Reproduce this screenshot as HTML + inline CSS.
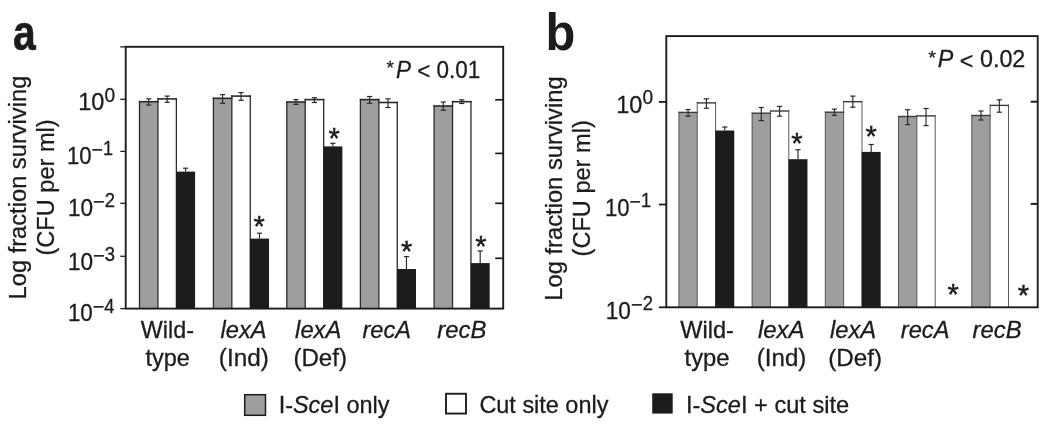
<!DOCTYPE html>
<html lang="en">
<head>
<meta charset="utf-8">
<title>Figure</title>
<style>
html,body{margin:0;padding:0;background:#ffffff;}
body{width:1050px;height:428px;overflow:hidden;}
svg{display:block;}
svg text{font-family:"Liberation Sans",sans-serif;fill:#1c1c1c;stroke:#1c1c1c;stroke-width:0.3px;font-kerning:none;white-space:pre;}
</style>
</head>
<body>
<svg width="1050" height="428" viewBox="0 0 1050 428">
<rect x="0" y="0" width="1050" height="428" fill="#ffffff"/>
<g font-size="24.3">
<rect x="139.50" y="101.70" width="18.43" height="206.90" fill="#9e9e9e"/>
<rect x="157.93" y="98.90" width="18.43" height="209.70" fill="#ffffff"/>
<line x1="139.50" y1="100.90" x2="139.50" y2="308.60" stroke="#2a2a2a" stroke-width="1.3" stroke-linecap="butt"/>
<line x1="157.93" y1="98.10" x2="157.93" y2="308.60" stroke="#2a2a2a" stroke-width="1.3" stroke-linecap="butt"/>
<line x1="176.36" y1="98.10" x2="176.36" y2="308.60" stroke="#2a2a2a" stroke-width="1.3" stroke-linecap="butt"/>
<line x1="138.85" y1="101.70" x2="158.58" y2="101.70" stroke="#2a2a2a" stroke-width="1.6" stroke-linecap="butt"/>
<line x1="157.28" y1="98.90" x2="177.01" y2="98.90" stroke="#2a2a2a" stroke-width="1.6" stroke-linecap="butt"/>
<rect x="176.06" y="171.60" width="19.03" height="137.00" fill="#1c1c1c"/>
<rect x="213.40" y="98.30" width="18.43" height="210.30" fill="#9e9e9e"/>
<rect x="231.83" y="96.10" width="18.43" height="212.50" fill="#ffffff"/>
<line x1="213.40" y1="97.50" x2="213.40" y2="308.60" stroke="#2a2a2a" stroke-width="1.3" stroke-linecap="butt"/>
<line x1="231.83" y1="95.30" x2="231.83" y2="308.60" stroke="#2a2a2a" stroke-width="1.3" stroke-linecap="butt"/>
<line x1="250.26" y1="95.30" x2="250.26" y2="308.60" stroke="#2a2a2a" stroke-width="1.3" stroke-linecap="butt"/>
<line x1="212.75" y1="98.30" x2="232.48" y2="98.30" stroke="#2a2a2a" stroke-width="1.6" stroke-linecap="butt"/>
<line x1="231.18" y1="96.10" x2="250.91" y2="96.10" stroke="#2a2a2a" stroke-width="1.6" stroke-linecap="butt"/>
<rect x="249.96" y="238.60" width="19.03" height="70.00" fill="#1c1c1c"/>
<rect x="286.80" y="102.00" width="18.43" height="206.60" fill="#9e9e9e"/>
<rect x="305.23" y="99.60" width="18.43" height="209.00" fill="#ffffff"/>
<line x1="286.80" y1="101.20" x2="286.80" y2="308.60" stroke="#2a2a2a" stroke-width="1.3" stroke-linecap="butt"/>
<line x1="305.23" y1="98.80" x2="305.23" y2="308.60" stroke="#2a2a2a" stroke-width="1.3" stroke-linecap="butt"/>
<line x1="323.66" y1="98.80" x2="323.66" y2="308.60" stroke="#2a2a2a" stroke-width="1.3" stroke-linecap="butt"/>
<line x1="286.15" y1="102.00" x2="305.88" y2="102.00" stroke="#2a2a2a" stroke-width="1.6" stroke-linecap="butt"/>
<line x1="304.58" y1="99.60" x2="324.31" y2="99.60" stroke="#2a2a2a" stroke-width="1.6" stroke-linecap="butt"/>
<rect x="323.36" y="146.40" width="19.03" height="162.20" fill="#1c1c1c"/>
<rect x="360.40" y="99.60" width="18.43" height="209.00" fill="#9e9e9e"/>
<rect x="378.83" y="102.50" width="18.43" height="206.10" fill="#ffffff"/>
<line x1="360.40" y1="98.80" x2="360.40" y2="308.60" stroke="#2a2a2a" stroke-width="1.3" stroke-linecap="butt"/>
<line x1="378.83" y1="98.80" x2="378.83" y2="308.60" stroke="#2a2a2a" stroke-width="1.3" stroke-linecap="butt"/>
<line x1="397.26" y1="101.70" x2="397.26" y2="308.60" stroke="#2a2a2a" stroke-width="1.3" stroke-linecap="butt"/>
<line x1="359.75" y1="99.60" x2="379.48" y2="99.60" stroke="#2a2a2a" stroke-width="1.6" stroke-linecap="butt"/>
<line x1="378.18" y1="102.50" x2="397.91" y2="102.50" stroke="#2a2a2a" stroke-width="1.6" stroke-linecap="butt"/>
<rect x="396.96" y="269.00" width="19.03" height="39.60" fill="#1c1c1c"/>
<rect x="434.10" y="106.00" width="18.43" height="202.60" fill="#9e9e9e"/>
<rect x="452.53" y="101.70" width="18.43" height="206.90" fill="#ffffff"/>
<line x1="434.10" y1="105.20" x2="434.10" y2="308.60" stroke="#2a2a2a" stroke-width="1.3" stroke-linecap="butt"/>
<line x1="452.53" y1="100.90" x2="452.53" y2="308.60" stroke="#2a2a2a" stroke-width="1.3" stroke-linecap="butt"/>
<line x1="470.96" y1="100.90" x2="470.96" y2="308.60" stroke="#2a2a2a" stroke-width="1.3" stroke-linecap="butt"/>
<line x1="433.45" y1="106.00" x2="453.18" y2="106.00" stroke="#2a2a2a" stroke-width="1.6" stroke-linecap="butt"/>
<line x1="451.88" y1="101.70" x2="471.61" y2="101.70" stroke="#2a2a2a" stroke-width="1.6" stroke-linecap="butt"/>
<rect x="470.66" y="263.10" width="19.03" height="45.50" fill="#1c1c1c"/>
<line x1="148.72" y1="98.80" x2="148.72" y2="105.10" stroke="#2a2a2a" stroke-width="1.15" stroke-linecap="butt"/>
<line x1="146.12" y1="98.80" x2="151.31" y2="98.80" stroke="#2a2a2a" stroke-width="1.2" stroke-linecap="butt"/>
<line x1="146.12" y1="105.10" x2="151.31" y2="105.10" stroke="#2a2a2a" stroke-width="1.2" stroke-linecap="butt"/>
<line x1="167.15" y1="96.10" x2="167.15" y2="102.30" stroke="#2a2a2a" stroke-width="1.15" stroke-linecap="butt"/>
<line x1="164.55" y1="96.10" x2="169.75" y2="96.10" stroke="#2a2a2a" stroke-width="1.2" stroke-linecap="butt"/>
<line x1="164.55" y1="102.30" x2="169.75" y2="102.30" stroke="#2a2a2a" stroke-width="1.2" stroke-linecap="butt"/>
<line x1="185.57" y1="168.20" x2="185.57" y2="171.60" stroke="#2a2a2a" stroke-width="1.15" stroke-linecap="butt"/>
<line x1="182.97" y1="168.20" x2="188.17" y2="168.20" stroke="#2a2a2a" stroke-width="1.2" stroke-linecap="butt"/>
<line x1="222.62" y1="94.60" x2="222.62" y2="103.30" stroke="#2a2a2a" stroke-width="1.15" stroke-linecap="butt"/>
<line x1="220.02" y1="94.60" x2="225.22" y2="94.60" stroke="#2a2a2a" stroke-width="1.2" stroke-linecap="butt"/>
<line x1="220.02" y1="103.30" x2="225.22" y2="103.30" stroke="#2a2a2a" stroke-width="1.2" stroke-linecap="butt"/>
<line x1="241.05" y1="92.60" x2="241.05" y2="100.30" stroke="#2a2a2a" stroke-width="1.15" stroke-linecap="butt"/>
<line x1="238.45" y1="92.60" x2="243.65" y2="92.60" stroke="#2a2a2a" stroke-width="1.2" stroke-linecap="butt"/>
<line x1="238.45" y1="100.30" x2="243.65" y2="100.30" stroke="#2a2a2a" stroke-width="1.2" stroke-linecap="butt"/>
<line x1="259.48" y1="233.20" x2="259.48" y2="238.60" stroke="#2a2a2a" stroke-width="1.15" stroke-linecap="butt"/>
<line x1="256.88" y1="233.20" x2="262.08" y2="233.20" stroke="#2a2a2a" stroke-width="1.2" stroke-linecap="butt"/>
<text x="253.55" y="235.65" font-size="29.0" style="stroke-width:0.45px">*</text>
<line x1="296.01" y1="99.60" x2="296.01" y2="104.40" stroke="#2a2a2a" stroke-width="1.15" stroke-linecap="butt"/>
<line x1="293.41" y1="99.60" x2="298.62" y2="99.60" stroke="#2a2a2a" stroke-width="1.2" stroke-linecap="butt"/>
<line x1="293.41" y1="104.40" x2="298.62" y2="104.40" stroke="#2a2a2a" stroke-width="1.2" stroke-linecap="butt"/>
<line x1="314.44" y1="97.70" x2="314.44" y2="102.50" stroke="#2a2a2a" stroke-width="1.15" stroke-linecap="butt"/>
<line x1="311.84" y1="97.70" x2="317.05" y2="97.70" stroke="#2a2a2a" stroke-width="1.2" stroke-linecap="butt"/>
<line x1="311.84" y1="102.50" x2="317.05" y2="102.50" stroke="#2a2a2a" stroke-width="1.2" stroke-linecap="butt"/>
<line x1="332.88" y1="143.30" x2="332.88" y2="146.40" stroke="#2a2a2a" stroke-width="1.15" stroke-linecap="butt"/>
<line x1="330.27" y1="143.30" x2="335.48" y2="143.30" stroke="#2a2a2a" stroke-width="1.2" stroke-linecap="butt"/>
<text x="328.45" y="147.75" font-size="29.0" style="stroke-width:0.45px">*</text>
<line x1="369.61" y1="96.50" x2="369.61" y2="103.30" stroke="#2a2a2a" stroke-width="1.15" stroke-linecap="butt"/>
<line x1="367.01" y1="96.50" x2="372.21" y2="96.50" stroke="#2a2a2a" stroke-width="1.2" stroke-linecap="butt"/>
<line x1="367.01" y1="103.30" x2="372.21" y2="103.30" stroke="#2a2a2a" stroke-width="1.2" stroke-linecap="butt"/>
<line x1="388.04" y1="98.80" x2="388.04" y2="107.50" stroke="#2a2a2a" stroke-width="1.15" stroke-linecap="butt"/>
<line x1="385.44" y1="98.80" x2="390.64" y2="98.80" stroke="#2a2a2a" stroke-width="1.2" stroke-linecap="butt"/>
<line x1="385.44" y1="107.50" x2="390.64" y2="107.50" stroke="#2a2a2a" stroke-width="1.2" stroke-linecap="butt"/>
<line x1="406.47" y1="256.60" x2="406.47" y2="269.00" stroke="#2a2a2a" stroke-width="1.15" stroke-linecap="butt"/>
<line x1="403.87" y1="256.60" x2="409.07" y2="256.60" stroke="#2a2a2a" stroke-width="1.2" stroke-linecap="butt"/>
<text x="400.95" y="260.55" font-size="29.0" style="stroke-width:0.45px">*</text>
<line x1="443.31" y1="102.00" x2="443.31" y2="110.30" stroke="#2a2a2a" stroke-width="1.15" stroke-linecap="butt"/>
<line x1="440.71" y1="102.00" x2="445.92" y2="102.00" stroke="#2a2a2a" stroke-width="1.2" stroke-linecap="butt"/>
<line x1="440.71" y1="110.30" x2="445.92" y2="110.30" stroke="#2a2a2a" stroke-width="1.2" stroke-linecap="butt"/>
<line x1="461.75" y1="99.80" x2="461.75" y2="103.50" stroke="#2a2a2a" stroke-width="1.15" stroke-linecap="butt"/>
<line x1="459.14" y1="99.80" x2="464.35" y2="99.80" stroke="#2a2a2a" stroke-width="1.2" stroke-linecap="butt"/>
<line x1="459.14" y1="103.50" x2="464.35" y2="103.50" stroke="#2a2a2a" stroke-width="1.2" stroke-linecap="butt"/>
<line x1="480.18" y1="251.00" x2="480.18" y2="263.10" stroke="#2a2a2a" stroke-width="1.15" stroke-linecap="butt"/>
<line x1="477.57" y1="251.00" x2="482.78" y2="251.00" stroke="#2a2a2a" stroke-width="1.2" stroke-linecap="butt"/>
<text x="475.35" y="255.55" font-size="29.0" style="stroke-width:0.45px">*</text>
<rect x="125.70" y="46.80" width="377.50" height="261.80" fill="none" stroke="#1c1c1c" stroke-width="1.9"/>
<line x1="120.30" y1="46.90" x2="125.70" y2="46.90" stroke="#1c1c1c" stroke-width="1.3" stroke-linecap="butt"/>
<line x1="120.30" y1="99.30" x2="125.70" y2="99.30" stroke="#1c1c1c" stroke-width="1.3" stroke-linecap="butt"/>
<line x1="120.30" y1="151.40" x2="125.70" y2="151.40" stroke="#1c1c1c" stroke-width="1.3" stroke-linecap="butt"/>
<line x1="120.30" y1="203.30" x2="125.70" y2="203.30" stroke="#1c1c1c" stroke-width="1.3" stroke-linecap="butt"/>
<line x1="120.30" y1="256.30" x2="125.70" y2="256.30" stroke="#1c1c1c" stroke-width="1.3" stroke-linecap="butt"/>
<line x1="120.30" y1="308.60" x2="125.70" y2="308.60" stroke="#1c1c1c" stroke-width="1.3" stroke-linecap="butt"/>
<line x1="495.20" y1="99.80" x2="503.70" y2="99.80" stroke="#1c1c1c" stroke-width="1.7" stroke-linecap="butt"/>
<line x1="495.20" y1="153.40" x2="503.70" y2="153.40" stroke="#1c1c1c" stroke-width="1.7" stroke-linecap="butt"/>
<line x1="495.20" y1="203.30" x2="503.70" y2="203.30" stroke="#1c1c1c" stroke-width="1.7" stroke-linecap="butt"/>
<line x1="495.20" y1="258.30" x2="503.70" y2="258.30" stroke="#1c1c1c" stroke-width="1.7" stroke-linecap="butt"/>
<text transform="translate(78.31,110.10) scale(0.9657,1)"><tspan font-size="24.3">10</tspan><tspan font-size="19.8" dy="-8.6">0</tspan></text>
<text transform="translate(67.01,164.00) scale(0.9104,1)"><tspan font-size="24.3">10</tspan><tspan font-size="21.5" dy="-7.0">−</tspan><tspan font-size="19.8" dy="-1.6">1</tspan></text>
<text transform="translate(67.88,215.90) scale(0.9298,1)"><tspan font-size="24.3">10</tspan><tspan font-size="21.5" dy="-7.0">−</tspan><tspan font-size="19.8" dy="-1.6">2</tspan></text>
<text transform="translate(67.88,269.90) scale(0.9316,1)"><tspan font-size="24.3">10</tspan><tspan font-size="21.5" dy="-7.0">−</tspan><tspan font-size="19.8" dy="-1.6">3</tspan></text>
<text transform="translate(67.89,321.30) scale(0.9218,1)"><tspan font-size="24.3">10</tspan><tspan font-size="21.5" dy="-7.0">−</tspan><tspan font-size="19.8" dy="-1.6">4</tspan></text>
<text transform="translate(140.70,337.50) scale(0.9621,1)"><tspan font-size="24.3">Wild-</tspan></text>
<text transform="translate(145.54,365.80) scale(0.9667,1)"><tspan font-size="24.3">type</tspan></text>
<text transform="translate(220.52,337.50) scale(0.9742,1)"><tspan font-size="24.3" font-style="italic">lexA</tspan></text>
<text transform="translate(218.79,365.80) scale(1.0010,1)"><tspan font-size="24.3">(Ind)</tspan></text>
<text transform="translate(295.12,337.50) scale(0.9786,1)"><tspan font-size="24.3" font-style="italic">lexA</tspan></text>
<text transform="translate(293.40,365.80) scale(0.9925,1)"><tspan font-size="24.3">(Def)</tspan></text>
<text transform="translate(362.41,337.50) scale(0.9740,1)"><tspan font-size="24.3" font-style="italic">recA</tspan></text>
<text transform="translate(437.20,337.50) scale(0.9850,1)"><tspan font-size="24.3" font-style="italic">recB</tspan></text>
<text transform="translate(26.00,299.44) rotate(-90) scale(0.9750,1)"><tspan font-size="24.3">Log fraction surviving</tspan></text>
<text transform="translate(53.90,255.56) rotate(-90) scale(0.9703,1)"><tspan font-size="24.3">(CFU per ml)</tspan></text>
<text transform="translate(386.49,74.10) scale(1.0000,1)"><tspan font-size="19.0">*</tspan></text>
<text transform="translate(395.91,77.60) scale(0.9254,1)"><tspan font-size="24.3" font-style="italic">P</tspan><tspan font-size="24.3" dy="1.5"> &lt;</tspan><tspan font-size="24.3" dy="-1.5"> 0.01</tspan></text>
<rect x="678.90" y="112.40" width="18.35" height="194.90" fill="#9e9e9e"/>
<rect x="697.25" y="102.90" width="18.35" height="204.40" fill="#ffffff"/>
<line x1="678.90" y1="111.70" x2="678.90" y2="307.30" stroke="#3c3c3c" stroke-width="0.85" stroke-linecap="butt"/>
<line x1="697.25" y1="102.20" x2="697.25" y2="307.30" stroke="#3c3c3c" stroke-width="0.85" stroke-linecap="butt"/>
<line x1="715.60" y1="102.20" x2="715.60" y2="307.30" stroke="#3c3c3c" stroke-width="0.85" stroke-linecap="butt"/>
<line x1="678.48" y1="112.40" x2="697.67" y2="112.40" stroke="#3c3c3c" stroke-width="1.4" stroke-linecap="butt"/>
<line x1="696.83" y1="102.90" x2="716.02" y2="102.90" stroke="#3c3c3c" stroke-width="1.4" stroke-linecap="butt"/>
<rect x="715.30" y="130.50" width="18.95" height="176.80" fill="#1c1c1c"/>
<rect x="752.10" y="113.20" width="18.35" height="194.10" fill="#9e9e9e"/>
<rect x="770.45" y="111.00" width="18.35" height="196.30" fill="#ffffff"/>
<line x1="752.10" y1="112.50" x2="752.10" y2="307.30" stroke="#3c3c3c" stroke-width="0.85" stroke-linecap="butt"/>
<line x1="770.45" y1="110.30" x2="770.45" y2="307.30" stroke="#3c3c3c" stroke-width="0.85" stroke-linecap="butt"/>
<line x1="788.80" y1="110.30" x2="788.80" y2="307.30" stroke="#3c3c3c" stroke-width="0.85" stroke-linecap="butt"/>
<line x1="751.68" y1="113.20" x2="770.88" y2="113.20" stroke="#3c3c3c" stroke-width="1.4" stroke-linecap="butt"/>
<line x1="770.03" y1="111.00" x2="789.23" y2="111.00" stroke="#3c3c3c" stroke-width="1.4" stroke-linecap="butt"/>
<rect x="788.50" y="159.20" width="18.95" height="148.10" fill="#1c1c1c"/>
<rect x="825.30" y="112.20" width="18.35" height="195.10" fill="#9e9e9e"/>
<rect x="843.65" y="101.70" width="18.35" height="205.60" fill="#ffffff"/>
<line x1="825.30" y1="111.50" x2="825.30" y2="307.30" stroke="#3c3c3c" stroke-width="0.85" stroke-linecap="butt"/>
<line x1="843.65" y1="101.00" x2="843.65" y2="307.30" stroke="#3c3c3c" stroke-width="0.85" stroke-linecap="butt"/>
<line x1="862.00" y1="101.00" x2="862.00" y2="307.30" stroke="#3c3c3c" stroke-width="0.85" stroke-linecap="butt"/>
<line x1="824.88" y1="112.20" x2="844.07" y2="112.20" stroke="#3c3c3c" stroke-width="1.4" stroke-linecap="butt"/>
<line x1="843.23" y1="101.70" x2="862.42" y2="101.70" stroke="#3c3c3c" stroke-width="1.4" stroke-linecap="butt"/>
<rect x="861.70" y="151.90" width="18.95" height="155.40" fill="#1c1c1c"/>
<rect x="898.50" y="116.50" width="18.35" height="190.80" fill="#9e9e9e"/>
<rect x="916.85" y="115.90" width="18.35" height="191.40" fill="#ffffff"/>
<line x1="898.50" y1="115.80" x2="898.50" y2="307.30" stroke="#3c3c3c" stroke-width="0.85" stroke-linecap="butt"/>
<line x1="916.85" y1="115.20" x2="916.85" y2="307.30" stroke="#3c3c3c" stroke-width="0.85" stroke-linecap="butt"/>
<line x1="935.20" y1="115.20" x2="935.20" y2="307.30" stroke="#3c3c3c" stroke-width="0.85" stroke-linecap="butt"/>
<line x1="898.08" y1="116.50" x2="917.27" y2="116.50" stroke="#3c3c3c" stroke-width="1.4" stroke-linecap="butt"/>
<line x1="916.43" y1="115.90" x2="935.62" y2="115.90" stroke="#3c3c3c" stroke-width="1.4" stroke-linecap="butt"/>
<rect x="971.80" y="115.50" width="18.35" height="191.80" fill="#9e9e9e"/>
<rect x="990.15" y="105.40" width="18.35" height="201.90" fill="#ffffff"/>
<line x1="971.80" y1="114.80" x2="971.80" y2="307.30" stroke="#3c3c3c" stroke-width="0.85" stroke-linecap="butt"/>
<line x1="990.15" y1="104.70" x2="990.15" y2="307.30" stroke="#3c3c3c" stroke-width="0.85" stroke-linecap="butt"/>
<line x1="1008.50" y1="104.70" x2="1008.50" y2="307.30" stroke="#3c3c3c" stroke-width="0.85" stroke-linecap="butt"/>
<line x1="971.38" y1="115.50" x2="990.57" y2="115.50" stroke="#3c3c3c" stroke-width="1.4" stroke-linecap="butt"/>
<line x1="989.73" y1="105.40" x2="1008.92" y2="105.40" stroke="#3c3c3c" stroke-width="1.4" stroke-linecap="butt"/>
<line x1="688.07" y1="109.50" x2="688.07" y2="116.20" stroke="#2a2a2a" stroke-width="1.15" stroke-linecap="butt"/>
<line x1="685.47" y1="109.50" x2="690.67" y2="109.50" stroke="#2a2a2a" stroke-width="1.2" stroke-linecap="butt"/>
<line x1="685.47" y1="116.20" x2="690.67" y2="116.20" stroke="#2a2a2a" stroke-width="1.2" stroke-linecap="butt"/>
<line x1="706.42" y1="98.80" x2="706.42" y2="108.20" stroke="#2a2a2a" stroke-width="1.15" stroke-linecap="butt"/>
<line x1="703.82" y1="98.80" x2="709.02" y2="98.80" stroke="#2a2a2a" stroke-width="1.2" stroke-linecap="butt"/>
<line x1="703.82" y1="108.20" x2="709.02" y2="108.20" stroke="#2a2a2a" stroke-width="1.2" stroke-linecap="butt"/>
<line x1="724.77" y1="127.00" x2="724.77" y2="130.50" stroke="#2a2a2a" stroke-width="1.15" stroke-linecap="butt"/>
<line x1="722.17" y1="127.00" x2="727.38" y2="127.00" stroke="#2a2a2a" stroke-width="1.2" stroke-linecap="butt"/>
<line x1="761.27" y1="107.50" x2="761.27" y2="120.60" stroke="#2a2a2a" stroke-width="1.15" stroke-linecap="butt"/>
<line x1="758.67" y1="107.50" x2="763.88" y2="107.50" stroke="#2a2a2a" stroke-width="1.2" stroke-linecap="butt"/>
<line x1="758.67" y1="120.60" x2="763.88" y2="120.60" stroke="#2a2a2a" stroke-width="1.2" stroke-linecap="butt"/>
<line x1="779.62" y1="106.40" x2="779.62" y2="116.20" stroke="#2a2a2a" stroke-width="1.15" stroke-linecap="butt"/>
<line x1="777.02" y1="106.40" x2="782.23" y2="106.40" stroke="#2a2a2a" stroke-width="1.2" stroke-linecap="butt"/>
<line x1="777.02" y1="116.20" x2="782.23" y2="116.20" stroke="#2a2a2a" stroke-width="1.2" stroke-linecap="butt"/>
<line x1="797.98" y1="149.70" x2="797.98" y2="159.20" stroke="#2a2a2a" stroke-width="1.15" stroke-linecap="butt"/>
<line x1="795.38" y1="149.70" x2="800.58" y2="149.70" stroke="#2a2a2a" stroke-width="1.2" stroke-linecap="butt"/>
<text x="791.15" y="152.55" font-size="29.0" style="stroke-width:0.45px">*</text>
<line x1="834.47" y1="109.10" x2="834.47" y2="115.30" stroke="#2a2a2a" stroke-width="1.15" stroke-linecap="butt"/>
<line x1="831.87" y1="109.10" x2="837.07" y2="109.10" stroke="#2a2a2a" stroke-width="1.2" stroke-linecap="butt"/>
<line x1="831.87" y1="115.30" x2="837.07" y2="115.30" stroke="#2a2a2a" stroke-width="1.2" stroke-linecap="butt"/>
<line x1="852.82" y1="96.10" x2="852.82" y2="107.20" stroke="#2a2a2a" stroke-width="1.15" stroke-linecap="butt"/>
<line x1="850.22" y1="96.10" x2="855.42" y2="96.10" stroke="#2a2a2a" stroke-width="1.2" stroke-linecap="butt"/>
<line x1="850.22" y1="107.20" x2="855.42" y2="107.20" stroke="#2a2a2a" stroke-width="1.2" stroke-linecap="butt"/>
<line x1="871.17" y1="144.50" x2="871.17" y2="151.90" stroke="#2a2a2a" stroke-width="1.15" stroke-linecap="butt"/>
<line x1="868.57" y1="144.50" x2="873.77" y2="144.50" stroke="#2a2a2a" stroke-width="1.2" stroke-linecap="butt"/>
<text x="865.55" y="145.85" font-size="29.0" style="stroke-width:0.45px">*</text>
<line x1="907.67" y1="109.70" x2="907.67" y2="124.60" stroke="#2a2a2a" stroke-width="1.15" stroke-linecap="butt"/>
<line x1="905.07" y1="109.70" x2="910.27" y2="109.70" stroke="#2a2a2a" stroke-width="1.2" stroke-linecap="butt"/>
<line x1="905.07" y1="124.60" x2="910.27" y2="124.60" stroke="#2a2a2a" stroke-width="1.2" stroke-linecap="butt"/>
<line x1="926.02" y1="108.50" x2="926.02" y2="125.60" stroke="#2a2a2a" stroke-width="1.15" stroke-linecap="butt"/>
<line x1="923.42" y1="108.50" x2="928.62" y2="108.50" stroke="#2a2a2a" stroke-width="1.2" stroke-linecap="butt"/>
<line x1="923.42" y1="125.60" x2="928.62" y2="125.60" stroke="#2a2a2a" stroke-width="1.2" stroke-linecap="butt"/>
<text x="947.55" y="303.95" font-size="29.0" style="stroke-width:0.45px">*</text>
<line x1="980.97" y1="111.00" x2="980.97" y2="120.00" stroke="#2a2a2a" stroke-width="1.15" stroke-linecap="butt"/>
<line x1="978.37" y1="111.00" x2="983.57" y2="111.00" stroke="#2a2a2a" stroke-width="1.2" stroke-linecap="butt"/>
<line x1="978.37" y1="120.00" x2="983.57" y2="120.00" stroke="#2a2a2a" stroke-width="1.2" stroke-linecap="butt"/>
<line x1="999.32" y1="99.80" x2="999.32" y2="112.20" stroke="#2a2a2a" stroke-width="1.15" stroke-linecap="butt"/>
<line x1="996.72" y1="99.80" x2="1001.92" y2="99.80" stroke="#2a2a2a" stroke-width="1.2" stroke-linecap="butt"/>
<line x1="996.72" y1="112.20" x2="1001.92" y2="112.20" stroke="#2a2a2a" stroke-width="1.2" stroke-linecap="butt"/>
<text x="1017.75" y="304.85" font-size="29.0" style="stroke-width:0.45px">*</text>
<rect x="666.30" y="36.10" width="371.40" height="271.20" fill="none" stroke="#1c1c1c" stroke-width="1.9"/>
<line x1="658.90" y1="101.90" x2="666.30" y2="101.90" stroke="#1c1c1c" stroke-width="1.8" stroke-linecap="butt"/>
<line x1="658.90" y1="204.50" x2="666.30" y2="204.50" stroke="#1c1c1c" stroke-width="1.8" stroke-linecap="butt"/>
<line x1="658.90" y1="307.30" x2="666.30" y2="307.30" stroke="#1c1c1c" stroke-width="1.8" stroke-linecap="butt"/>
<line x1="1030.70" y1="101.70" x2="1038.20" y2="101.70" stroke="#1c1c1c" stroke-width="2.0" stroke-linecap="butt"/>
<line x1="1030.70" y1="203.90" x2="1038.20" y2="203.90" stroke="#1c1c1c" stroke-width="2.0" stroke-linecap="butt"/>
<text transform="translate(616.31,113.00) scale(0.9657,1)"><tspan font-size="24.3">10</tspan><tspan font-size="19.8" dy="-8.6">0</tspan></text>
<text transform="translate(605.01,215.80) scale(0.9104,1)"><tspan font-size="24.3">10</tspan><tspan font-size="21.5" dy="-7.0">−</tspan><tspan font-size="19.8" dy="-1.6">1</tspan></text>
<text transform="translate(605.77,319.00) scale(0.9319,1)"><tspan font-size="24.3">10</tspan><tspan font-size="21.5" dy="-7.0">−</tspan><tspan font-size="19.8" dy="-1.6">2</tspan></text>
<text transform="translate(680.30,337.50) scale(0.9695,1)"><tspan font-size="24.3">Wild-</tspan></text>
<text transform="translate(684.54,365.80) scale(0.9802,1)"><tspan font-size="24.3">type</tspan></text>
<text transform="translate(757.91,337.50) scale(0.9874,1)"><tspan font-size="24.3" font-style="italic">lexA</tspan></text>
<text transform="translate(756.80,365.80) scale(0.9925,1)"><tspan font-size="24.3">(Ind)</tspan></text>
<text transform="translate(829.92,337.50) scale(0.9786,1)"><tspan font-size="24.3" font-style="italic">lexA</tspan></text>
<text transform="translate(828.30,365.80) scale(0.9944,1)"><tspan font-size="24.3">(Def)</tspan></text>
<text transform="translate(900.81,337.50) scale(0.9740,1)"><tspan font-size="24.3" font-style="italic">recA</tspan></text>
<text transform="translate(972.50,337.50) scale(0.9830,1)"><tspan font-size="24.3" font-style="italic">recB</tspan></text>
<text transform="translate(561.70,300.75) rotate(-90) scale(0.9776,1)"><tspan font-size="24.3">Log fraction surviving</tspan></text>
<text transform="translate(589.50,256.46) rotate(-90) scale(0.9703,1)"><tspan font-size="24.3">(CFU per ml)</tspan></text>
<text transform="translate(928.39,63.70) scale(1.0000,1)"><tspan font-size="19.0">*</tspan></text>
<text transform="translate(937.78,67.20) scale(0.9605,1)"><tspan font-size="24.3" font-style="italic">P</tspan><tspan font-size="24.3" dy="1.5"> &lt;</tspan><tspan font-size="24.3" dy="-1.5"> 0.02</tspan></text>
<text transform="translate(13.0,49.7) scale(0.82,1)" font-size="49.8" font-weight="bold" style="stroke-width:0.7px">a</text>
<text transform="translate(545.6,49.8) scale(0.93,1)" font-size="52.5" font-weight="bold" style="stroke-width:0">b</text>
<rect x="244.70" y="394.70" width="20.80" height="20.60" fill="#9e9e9e" stroke="#1c1c1c" stroke-width="1.5"/>
<text transform="translate(278.64,412.60) scale(0.9653,1)"><tspan font-size="24.3">I-</tspan><tspan font-size="24.3" font-style="italic">Sce</tspan><tspan font-size="24.3">I only</tspan></text>
<rect x="446.00" y="393.75" width="20.00" height="19.80" fill="#ffffff" stroke="#1c1c1c" stroke-width="1.9"/>
<text transform="translate(479.41,412.60) scale(0.9651,1)"><tspan font-size="24.3">Cut site only</tspan></text>
<rect x="652.20" y="393.30" width="20.50" height="20.30" fill="#1c1c1c"/>
<text transform="translate(685.92,412.70) scale(0.9714,1)"><tspan font-size="24.3">I-</tspan><tspan font-size="24.3" font-style="italic">Sce</tspan><tspan font-size="24.3">I + cut site</tspan></text>
</g>
</svg>
</body>
</html>
